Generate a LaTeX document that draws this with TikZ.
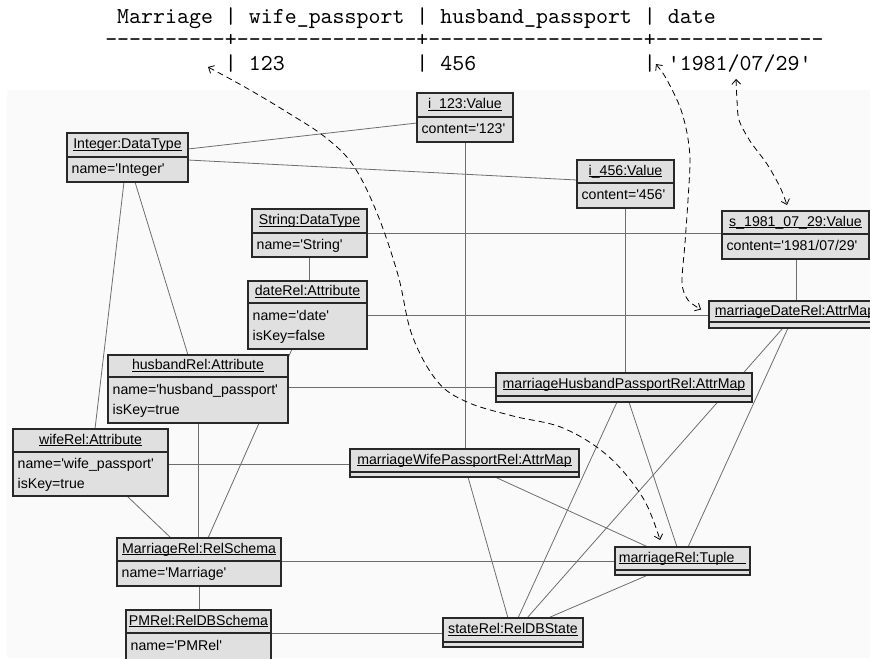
\documentclass[tikz,border=0pt]{standalone}
\usepackage{fontspec}
\usepackage{tikz}
\usetikzlibrary{calc, backgrounds, arrows.meta}
\newfontfamily\boxfont{Liberation Sans}
\newfontfamily\tabfont{lmmono10-regular.otf}[WordSpace={1,0,0}]
\definecolor{boxfill}{RGB}{224, 224, 224}
\definecolor{boxline}{RGB}{40, 40, 40}
\definecolor{linkgray}{RGB}{110, 110, 110}
\definecolor{paper}{RGB}{250, 250, 250}
\newcommand{\ulname}[1]{\setbox0\hbox{#1}\rlap{\rule[-1.6pt]{\wd0}{0.7pt}}\box0}

\begin{document}
\begin{tikzpicture}[x=0.75pt, y=-0.75pt,
    objhead/.style={draw=boxline, fill=boxfill, line width=1pt, outer sep=0pt,
      anchor=north west, inner sep=0pt, font=\boxfont\fontsize{10.6}{15}\selectfont,
      text height=7.6pt, text depth=2.2pt},
    objattr/.style={draw=boxline, fill=boxfill, line width=1pt, outer sep=0pt,
      anchor=north west, inner xsep=3.5pt, inner ysep=0pt, align=left,
      font=\boxfont\fontsize{10.6}{15}\selectfont,
      execute at begin node=\strut, execute at end node=\strut},
    objfoot/.style={draw=boxline, fill=boxfill, line width=1pt, outer sep=0pt,
      anchor=north west, inner sep=0pt, minimum height=4.5pt},
    link/.style={draw=linkgray, line width=0.6pt},
    trace/.style={black, line width=0.6pt, dash pattern=on 4.5pt off 3pt,
      {Straight Barb[length=3.5pt,width=6.5pt]}-{Straight Barb[length=3.5pt,width=6.5pt]}},
    tabline/.style={anchor=base west, inner sep=0pt, font=\tabfont\fontsize{17.1}{20}\selectfont}]

  \useasboundingbox (0,0) rectangle (870,658);

  % query result
  \node[tabline] (hdrrow) at (105,23) {~Marriage~|~wife\_passport~|~husband\_passport~|~date};
  \node[tabline] (seprow) at (105,46.5) {----------+---------------+------------------+--------------};
  \node[tabline] (valrow) at (105,70) {~~~~~~~~~~|~123~~~~~~~~~~~|~456~~~~~~~~~~~~~~|~'1981/07/29'};

  % data types
  \node[objhead, minimum width=90.75pt, minimum height=18pt] (intdt) at (67,133) {\ulname{Integer:DataType}};
  \node[objattr, text width=83.75pt, minimum height=18.75pt] (intdtattr) at (intdt.south west) {name='Integer'};

  \node[objhead, minimum width=86.25pt, minimum height=18pt] (strdt) at (252,209) {\ulname{String:DataType}};
  \node[objattr, text width=79.25pt, minimum height=18pt] (strdtattr) at (strdt.south west) {name='String'};

  % values
  \node[objhead, minimum width=72pt, minimum height=18pt] (v123) at (417,93) {\ulname{i\_123:Value}};
  \node[objattr, text width=65pt, minimum height=18.75pt] (v123attr) at (v123.south west) {content='123'};

  \node[objhead, minimum width=72.75pt, minimum height=17.25pt] (v456) at (577,160) {\ulname{i\_456:Value}};
  \node[objattr, text width=65.75pt, minimum height=18.75pt] (v456attr) at (v456.south west) {content='456'};

  \node[objhead, minimum width=110.25pt, minimum height=17.25pt] (vdate) at (722,211) {\ulname{s\_1981\_07\_29:Value}};
  \node[objattr, text width=103.25pt, minimum height=18.75pt] (vdateattr) at (vdate.south west) {content='1981/07/29'};

  % attributes
  \node[objhead, minimum width=89.25pt, minimum height=16.5pt] (daterel) at (248,281) {\ulname{dateRel:Attribute}};
  \node[objattr, text width=82.25pt, minimum height=34.5pt] (daterelattr) at (daterel.south west) {name='date'\\isKey=false};

  \node[objhead, minimum width=135pt, minimum height=16.5pt] (husrel) at (108,355) {\ulname{husbandRel:Attribute}};
  \node[objattr, text width=128pt, minimum height=34.5pt] (husrelattr) at (husrel.south west) {name='husband\_passport'\\isKey=true};

  \node[objhead, minimum width=116.25pt, minimum height=17.25pt] (wiferel) at (13,429) {\ulname{wifeRel:Attribute}};
  \node[objattr, text width=109.25pt, minimum height=33pt] (wiferelattr) at (wiferel.south west) {name='wife\_passport'\\isKey=true};

  % attribute maps
  \node[objhead, minimum width=129pt, minimum height=15.75pt] (mdaterel) at (709,301) {\ulname{marriageDateRel:AttrMap}};
  \node[objfoot, minimum width=129pt] (mdaterelattr) at (mdaterel.south west) {};

  \node[objhead, minimum width=192pt, minimum height=17.25pt] (mhusrel) at (496,373) {\ulname{marriageHusbandPassportRel:AttrMap}};
  \node[objfoot, minimum width=192pt] (mhusrelattr) at (mhusrel.south west) {};

  \node[objhead, minimum width=171.75pt, minimum height=17.25pt] (mwiferel) at (350,449) {\ulname{marriageWifePassportRel:AttrMap}};
  \node[objfoot, minimum width=171.75pt, minimum height=3.75pt] (mwiferelattr) at (mwiferel.south west) {};

  % schemas
  \node[objhead, minimum width=123pt, minimum height=17.25pt] (mrel) at (117,538) {\ulname{MarriageRel:RelSchema}};
  \node[objattr, text width=116pt, minimum height=18.75pt] (mrelattr) at (mrel.south west) {name='Marriage'};

  \node[objhead, minimum width=108.75pt, minimum height=17.25pt] (pmrel) at (126,610) {\ulname{PMRel:RelDBSchema}};
  \node[objattr, text width=101.75pt, minimum height=20.25pt] (pmrelattr) at (pmrel.south west) {name='PMRel'};

  % state
  \node[objhead, minimum width=101.25pt, minimum height=17.25pt] (tuple) at (615,547) {\ulname{marriageRel:Tuple\ \ \ }};
  \node[objfoot, minimum width=101.25pt, minimum height=3.75pt] (tupleattr) at (tuple.south west) {};

  \node[objhead, minimum width=105pt, minimum height=18pt] (state) at (443,618) {\ulname{stateRel:RelDBState}};
  \node[objfoot, minimum width=105pt, minimum height=3.75pt] (stateattr) at (state.south west) {};

  % links, behind the boxes
  \begin{scope}[on background layer]
    \fill[paper] (7,90) rectangle (870,658);
    \draw[link] ($(intdt.south east)+(0,-8)$) -- ($(v123attr.north west)+(0,6)$);
    \draw[link] ($(intdtattr.north east)+(0,3)$) -- ($(v456.south west)+(0,-3)$);
    \draw[link] ($(intdtattr.south west)+(57,0)$) -- ($(wiferel.north west)+(82,0)$);
    \draw[link] ($(intdtattr.south west)+(68,0)$) -- ($(husrel.north west)+(80,0)$);
    \draw[link] (strdt.south east) -- (strdt.south east -| vdate.west);
    \draw[link] (strdtattr.south) -- (strdtattr.south |- daterel.north);
    \draw[link] (v123attr.south) -- (v123attr.south |- mwiferel.north);
    \draw[link] (v456attr.south) -- (v456attr.south |- mhusrel.north);
    \draw[link] ($(vdateattr.south west)+(74,0)$) -- ($(mdaterel.north west)+(87,0)$);
    \draw[link] ($(daterelattr.north east)+(0,12)$) -- ($(mdaterel.north west)+(0,14)$);
    \draw[link] ($(husrelattr.north east)+(0,10)$) -- ($(mhusrel.north west)+(0,14)$);
    \draw[link] ($(wiferelattr.north east)+(0,12)$) -- ($(mwiferel.north west)+(0,15)$);
    \draw[link] ($(daterelattr.south west)+(44,0)$) -- ($(mrel.north west)+(91,0)$);
    \draw[link] ($(husrelattr.south west)+(90,0)$) -- ($(mrel.north west)+(81,0)$);
    \draw[link] ($(wiferelattr.south west)+(114,0)$) -- ($(mrel.north west)+(54,0)$);
    \draw[link] ($(mrelattr.south west)+(82,0)$) -- ($(pmrel.north west)+(73,0)$);
    \draw[link] (mrel.south east) -- (mrel.south east -| tuple.west);
    \draw[link] (pmrel.south east) -- (pmrel.south east -| state.west);
    \draw[link] ($(mwiferelattr.south west)+(118,0)$) -- ($(state.north west)+(65,0)$);
    \draw[link] ($(mwiferelattr.south west)+(145,0)$) -- ($(tuple.north west)+(33,0)$);
    \draw[link] ($(mhusrelattr.south west)+(121,0)$) -- ($(state.north west)+(75,0)$);
    \draw[link] ($(mhusrelattr.south west)+(133,0)$) -- ($(tuple.north west)+(62,0)$);
    \draw[link] ($(mdaterelattr.south west)+(74,0)$) -- ($(state.north west)+(84,0)$);
    \draw[link] ($(mdaterelattr.south west)+(79,0)$) -- ($(tuple.north west)+(73,0)$);
    \draw[link] ($(tupleattr.south west)+(33,0)$) -- ($(state.north west)+(105,0)$);
  \end{scope}

  % traces from the table to the objects
  \coordinate (wifetip) at (208,67);
  \coordinate (datetip) at (656,64);
  \coordinate (valtip) at (736,79);
  \coordinate (tupletip) at ($(tuple.north west)+(45,-7)$);
  \coordinate (mdatetip) at ($(mdaterel.west)+(-8,-2)$);
  \coordinate (vdatetip) at ($(vdate.north west)+(65,-6)$);

  \draw[trace] plot[smooth, tension=0.6] coordinates {(wifetip) (250,90) (290,114) (325,137) (353,165) (377,213) (398,275) (412,335) (437,381) (467,402) (513,416) (563,428) (608,456) (643,498) (tupletip)};
  \draw[trace] plot[smooth] coordinates {(datetip) (667,80) (680,107) (687,133) (690,160) (688,200) (685,243) (682,283) (688,300) (mdatetip)};
  \draw[trace] plot[smooth] coordinates {(valtip) (737,100) (739,120) (750,141) (767,164) (780,187) (vdatetip)};

\end{tikzpicture}
\end{document}
